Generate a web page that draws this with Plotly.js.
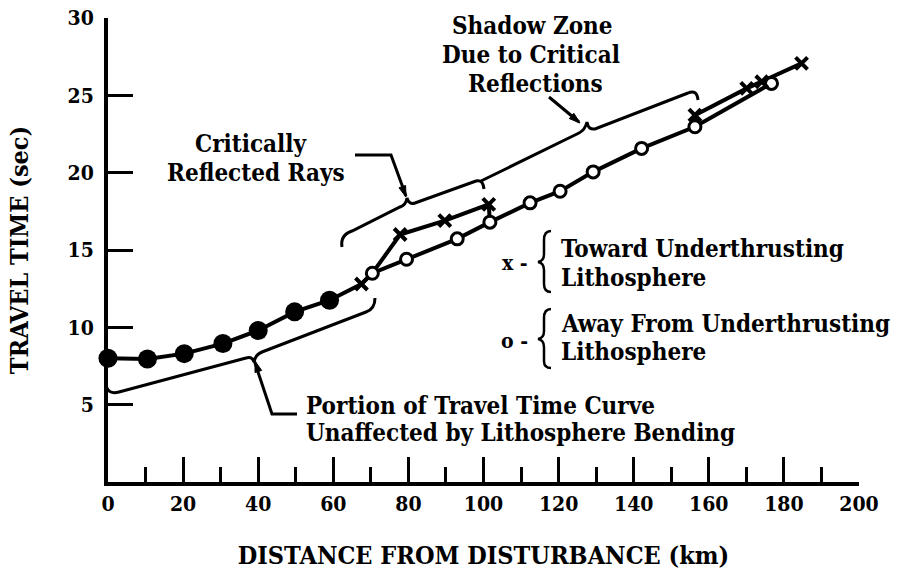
<!DOCTYPE html>
<html>
<head>
<meta charset="utf-8">
<script src="https://cdn.plot.ly/plotly-3.0.1.min.js"></script>
<style>html,body{margin:0;padding:0;background:#fff;}#chart{width:905px;height:578px;}</style>
</head>
<body>
<div id="chart"></div>
<script>
// ---- data ----
const filledX = [0, 10.5, 20.3, 30.6, 40, 49.7, 59];
const filledY = [8.0, 7.95, 8.3, 8.95, 9.8, 11.0, 11.75];
const towardX = [67.5, 77.8, 89.7, 101.4, 156.3, 170.1, 174.1, 184.7];
const towardY = [12.8, 16.0, 16.9, 17.95, 23.72, 25.45, 25.88, 27.07];
const awayX = [70.4, 79.5, 93.0, 101.7, 112.4, 120.4, 129.2, 142.1, 156.3, 176.7];
const awayY = [13.5, 14.4, 15.72, 16.8, 18.05, 18.8, 20.05, 21.57, 22.97, 25.77];
const xTickVals = [0, 20, 40, 60, 80, 100, 120, 140, 160, 180, 200];
const yTickVals = [5, 10, 15, 20, 25, 30];

const FONT = "DejaVu Serif Condensed, DejaVu Serif, serif";
const BLACK = "#000";

// pixel -> data helpers for decorations (braces, leaders, notes)
const PX0 = 108, PX1 = 859, PY0 = 482, PY1 = 18;
function dx(px) { return (px - PX0) / (PX1 - PX0) * 200; }
function dy(py) { return (PY0 - py) / (PY0 - PY1) * 30; }
function path(cmds) {
  return cmds.map(c => {
    const op = c[0];
    const pts = [];
    for (let i = 1; i < c.length; i += 2) pts.push(dx(c[i]) + "," + dy(c[i + 1]));
    return op + " " + pts.join(" ");
  }).join(" ");
}
function lineShape(cmds, w) {
  return {type: "path", xref: "x", yref: "y", path: path(cmds),
          line: {color: BLACK, width: w || 3}, fillcolor: "rgba(0,0,0,0)"};
}
function arrowHead(fx, fy, tx, ty) {
  const L = Math.hypot(tx - fx, ty - fy);
  const ux = (tx - fx) / L, uy = (ty - fy) / L;
  const bx = tx - 11 * ux, by = ty - 11 * uy;
  const px = -uy * 3.5, py = ux * 3.5;
  return {type: "path", xref: "x", yref: "y",
          path: path([["M", tx, ty], ["L", bx + px, by + py], ["L", bx - px, by - py], ["Z"]]),
          line: {color: BLACK, width: 1}, fillcolor: BLACK};
}

// ---- traces ----
const mainLine = {
  x: filledX.concat([towardX[0]], awayX),
  y: filledY.concat([towardY[0]], awayY),
  mode: "lines", line: {color: BLACK, width: 4}, cliponaxis: false, hoverinfo: "skip"
};
const towardLine1 = {
  x: [awayX[0], towardX[1], towardX[2], towardX[3], awayX[3]],
  y: [awayY[0], towardY[1], towardY[2], towardY[3], awayY[3]],
  mode: "lines", line: {color: BLACK, width: 4}, cliponaxis: false, hoverinfo: "skip"
};
const towardLine2 = {
  x: [awayX[8], towardX[4], towardX[5], towardX[6], towardX[7]],
  y: [awayY[8], towardY[4], towardY[5], towardY[6], towardY[7]],
  mode: "lines", line: {color: BLACK, width: 4}, cliponaxis: false, hoverinfo: "skip"
};
const filledPts = {
  x: filledX, y: filledY, mode: "markers", cliponaxis: false,
  marker: {symbol: "circle", size: 19, color: BLACK}
};
const awayPts = {
  x: awayX, y: awayY, mode: "markers", cliponaxis: false,
  marker: {symbol: "circle", size: 12, color: "#fff", line: {color: BLACK, width: 3}}
};
const towardPts = {
  x: towardX, y: towardY, mode: "markers", cliponaxis: false,
  marker: {symbol: "x-thin-open", size: 12, color: BLACK, line: {color: BLACK, width: 4}}
};

// ---- decorations ----
const shapes = [
  // lower brace (unaffected portion)
  lineShape([["M", 106, 385], ["Q", 108, 395, 119, 392], ["L", 246, 358], ["Q", 252, 356, 254, 362],
             ["Q", 255, 355, 262, 352], ["L", 366, 312], ["Q", 375, 309, 375, 298]]),
  lineShape([["M", 254, 360], ["L", 272, 414], ["L", 297, 414]]),
  arrowHead(270, 408, 255, 361),
  // critically reflected rays brace
  lineShape([["M", 342, 247], ["Q", 340, 235, 352, 231], ["L", 400, 207], ["Q", 406, 205, 407, 198],
             ["Q", 409, 205, 415, 203], ["L", 476, 181], ["Q", 483, 179, 484, 189]]),
  lineShape([["M", 355, 155], ["L", 391, 155], ["L", 406, 196]]),
  arrowHead(391, 155, 406, 197),
  // shadow zone brace
  lineShape([["M", 481, 181], ["L", 579, 133], ["Q", 585, 130, 587, 122], ["Q", 588, 130, 595, 129],
             ["L", 688, 93], ["Q", 697, 89, 698, 100]]),
  lineShape([["M", 549, 97], ["L", 579, 122]]),
  arrowHead(549, 97, 580, 123),
  // legend braces
  lineShape([["M", 551, 231], ["Q", 544, 231, 544, 240], ["L", 544, 254], ["Q", 544, 261, 538, 262],
             ["Q", 544, 263, 544, 270], ["L", 544, 284], ["Q", 544, 292, 551, 292]], 2.5),
  lineShape([["M", 551, 309], ["Q", 544, 309, 544, 318], ["L", 544, 331], ["Q", 544, 338, 538, 339],
             ["Q", 544, 340, 544, 347], ["L", 544, 361], ["Q", 544, 368, 551, 368]], 2.5)
];

function note(text, px, py, xanchor, size) {
  return {text: text, x: dx(px), y: dy(py), xref: "x", yref: "y", xanchor: xanchor, yanchor: "middle",
          showarrow: false,
          font: {family: FONT, size: size || 24, color: BLACK, weight: "bold"}};
}
const annotations = [
  note("Shadow Zone", 532, 25, "center"),
  note("Due to Critical", 531, 54, "center"),
  note("Reflections", 535, 83, "center"),
  note("Critically", 251, 143, "center"),
  note("Reflected Rays", 256, 172, "center"),
  note("Toward Underthrusting", 559, 248, "left"),
  note("Lithosphere", 559, 277, "left"),
  note("Away From Underthrusting", 559, 323, "left"),
  note("Lithosphere", 559, 351, "left"),
  note("x -", 515, 262, "center", 21),
  note("o -", 514, 340, "center", 21),
  note("Portion of Travel Time Curve", 304, 405, "left"),
  note("Unaffected by Lithosphere Bending", 304, 432, "left")
];

const layout = {
  width: 905, height: 578,
  margin: {l: 108, r: 46, t: 18, b: 96, pad: 0},
  paper_bgcolor: "#fff", plot_bgcolor: "#fff",
  showlegend: false,
  font: {family: FONT, color: BLACK},
  xaxis: {
    range: [0, 200], tickvals: xTickVals, ticktext: xTickVals.map(String),
    showline: true, linewidth: 4, linecolor: BLACK, mirror: false,
    ticks: "inside", ticklen: 25, tickwidth: 3, tickcolor: BLACK,
    minor: {dtick: 10, tick0: 0, ticks: "inside", ticklen: 15, tickwidth: 3, tickcolor: BLACK, showgrid: false},
    showgrid: false, zeroline: false, fixedrange: true,
    tickfont: {family: FONT, size: 21, color: BLACK, weight: "bold"},
    title: {text: "DISTANCE FROM DISTURBANCE (km)", standoff: 32,
            font: {family: FONT, size: 25, color: BLACK, weight: "bold"}}
  },
  yaxis: {
    range: [0, 30], tickvals: yTickVals, ticktext: yTickVals.map(String),
    showline: true, linewidth: 4, linecolor: BLACK,
    ticks: "inside", ticklen: 25, tickwidth: 3, tickcolor: BLACK,
    showgrid: false, zeroline: false, fixedrange: true, ticklabelstandoff: 6,
    tickfont: {family: FONT, size: 21, color: BLACK, weight: "bold"},
    title: {text: "TRAVEL TIME (sec)", standoff: 33,
            font: {family: FONT, size: 25, color: BLACK, weight: "bold"}}
  },
  shapes: shapes,
  annotations: annotations
};

Plotly.newPlot("chart", [mainLine, towardLine1, towardLine2, filledPts, awayPts, towardPts], layout,
               {staticPlot: true, displayModeBar: false});
</script>
</body>
</html>
